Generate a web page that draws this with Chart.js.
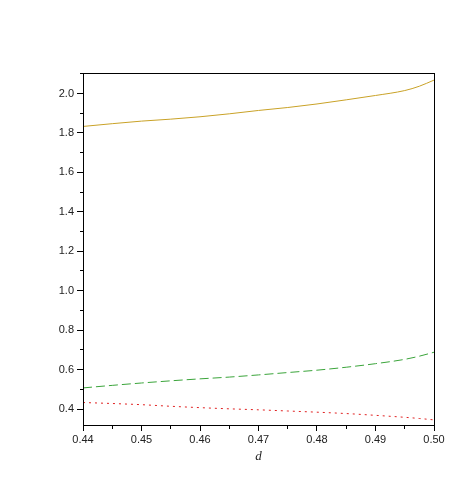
<!DOCTYPE html>
<html>
<head>
<meta charset="utf-8">
<script src="https://cdn.jsdelivr.net/npm/chart.js@4/dist/chart.umd.min.js"></script>
<style>
html,body{margin:0;padding:0;background:#fff;}
#wrap{width:476px;height:501px;}
</style>
</head>
<body>
<div id="wrap"><canvas id="c" width="476" height="501"></canvas></div>
<script>
// valores (d, y)
const dVals=[0.44,0.445,0.45,0.455,0.46,0.465,0.47,0.475,0.48,0.485,0.49,0.495,0.4975,0.50];
const curvaAlta=[1.833,1.847,1.860,1.870,1.882,1.897,1.914,1.929,1.947,1.968,1.990,2.015,2.037,2.068];
const curvaMedia=[0.507,0.520,0.532,0.543,0.553,0.562,0.573,0.585,0.597,0.612,0.630,0.652,0.668,0.688];
const curvaBaja=[0.433,0.428,0.422,0.414,0.407,0.401,0.396,0.390,0.384,0.377,0.368,0.358,0.352,0.345];
const xRango=[0.44,0.50];
const yRango=[0.319,2.104];

const pts=ys=>dVals.map((d,i)=>({x:d,y:ys[i]}));
const fuente={family:"'Liberation Sans', Arial, sans-serif",size:11};

// recuadro completo del area del grafico
const marco={id:"marco",afterDraw(ch){const a=ch.chartArea,c=ch.ctx;c.save();c.strokeStyle="#000";c.lineWidth=1;
  c.strokeRect(Math.round(a.left)+0.5,Math.round(a.top)+0.5,Math.round(a.right-a.left),Math.round(a.bottom-a.top));c.restore();}};

const serie=(ys,col,dash)=>({data:pts(ys),borderColor:col,borderWidth:1,borderDash:dash,pointRadius:0,fill:false,cubicInterpolationMode:"monotone"});

new Chart(document.getElementById("c"),{
  type:"line",
  data:{datasets:[
    serie(curvaAlta,"#c9a227",[]),
    serie(curvaMedia,"#3aa43a",[9,4]),
    serie(curvaBaja,"#e02020",[2,4])
  ]},
  options:{
    responsive:false,animation:false,
    layout:{padding:{left:0,right:42,top:73,bottom:0}},
    plugins:{legend:{display:false},tooltip:{enabled:false}},
    scales:{
      x:{type:"linear",position:"bottom",weight:1,min:xRango[0],max:xRango[1],
        afterFit(s){s.height=76;},
        border:{display:true,color:"#000"},
        grid:{drawOnChartArea:false,tickLength:6,color:"#000"},
        ticks:{stepSize:0.01,includeBounds:false,color:"#222",font:fuente,padding:2,maxRotation:0,callback:v=>v.toFixed(2)},
        title:{display:true,text:"d",color:"#222",font:{family:"'Liberation Serif', serif",size:13,style:"italic"},padding:{top:0,bottom:37}}},
      xMenor:{type:"linear",position:"bottom",weight:0,min:xRango[0],max:xRango[1],
        afterFit(s){s.height=0;},
        border:{display:false},
        grid:{drawOnChartArea:false,tickLength:4,color:"#000"},
        ticks:{stepSize:0.005,includeBounds:false,display:false}},
      y:{type:"linear",position:"left",weight:1,min:yRango[0],max:yRango[1],
        afterFit(s){s.width=83;},
        border:{display:true,color:"#000"},
        grid:{drawOnChartArea:false,tickLength:6,color:"#000"},
        ticks:{stepSize:0.2,includeBounds:false,color:"#222",font:fuente,padding:3,callback:v=>v.toFixed(1)}},
      yMenor:{type:"linear",position:"left",weight:0,min:yRango[0],max:yRango[1],
        afterFit(s){s.width=0;},
        border:{display:false},
        grid:{drawOnChartArea:false,tickLength:3,color:"#000"},
        ticks:{stepSize:0.1,includeBounds:false,display:false}}
    }
  },
  plugins:[marco]
});
</script>
</body>
</html>
